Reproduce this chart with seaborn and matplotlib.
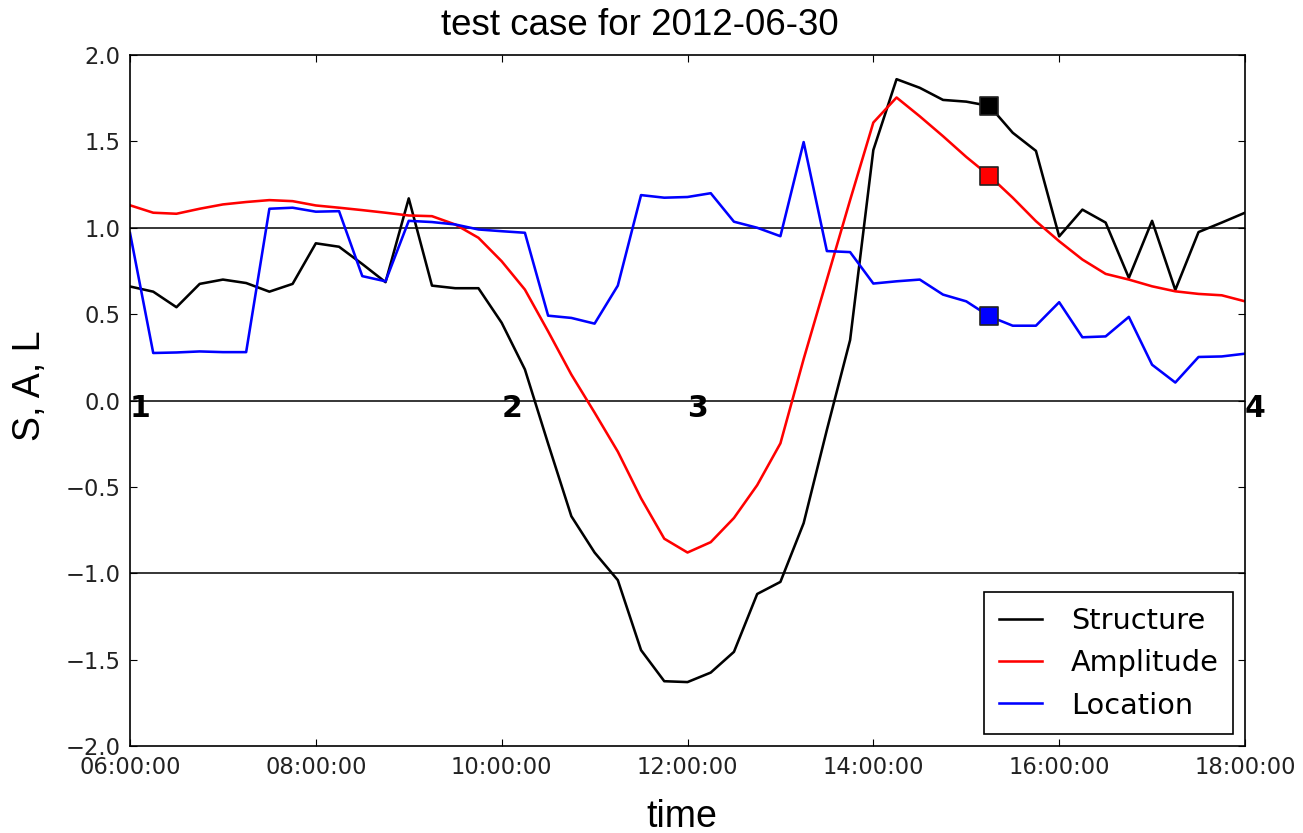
import numpy as np
import pandas as pd
import matplotlib
matplotlib.use("Agg")
import matplotlib.pyplot as plt
import matplotlib.dates as mdates
from matplotlib.lines import Line2D
from matplotlib.markers import MarkerStyle
import seaborn as sns

# ---------------- data ----------------
date = "2012-06-30"
times = pd.date_range(f"{date} 06:00", f"{date} 18:00", freq="15min")

structure = [0.66, 0.63, 0.54, 0.675, 0.70, 0.68, 0.63, 0.675, 0.91, 0.89,
             0.79, 0.685, 1.17, 0.665, 0.65, 0.65, 0.45, 0.18, -0.25, -0.67,
             -0.88, -1.04, -1.445, -1.625, -1.63, -1.575, -1.455, -1.12, -1.05, -0.71,
             -0.17, 0.35, 1.45, 1.86, 1.81, 1.74, 1.73, 1.705, 1.55, 1.445,
             0.95, 1.105, 1.03, 0.71, 1.04, 0.64, 0.975, 1.03, 1.087]

amplitude = [1.13, 1.087, 1.081, 1.11, 1.135, 1.149, 1.16, 1.154, 1.129, 1.116,
             1.102, 1.087, 1.071, 1.067, 1.019, 0.942, 0.806, 0.642, 0.40, 0.15,
             -0.07, -0.296, -0.566, -0.80, -0.88, -0.82, -0.68, -0.49, -0.248, 0.24,
             0.70, 1.16, 1.609, 1.754, 1.645, 1.53, 1.41, 1.30, 1.174, 1.038,
             0.922, 0.816, 0.733, 0.70, 0.661, 0.632, 0.617, 0.609, 0.574]

location = [0.97, 0.275, 0.278, 0.284, 0.28, 0.28, 1.11, 1.116, 1.093, 1.096,
            0.72, 0.69, 1.04, 1.033, 1.019, 0.99, 0.98, 0.971, 0.491, 0.478,
            0.445, 0.665, 1.189, 1.174, 1.178, 1.20, 1.035, 1.0, 0.951, 1.496,
            0.865, 0.859, 0.677, 0.69, 0.70, 0.613, 0.574, 0.487, 0.433, 0.433,
            0.569, 0.366, 0.371, 0.484, 0.207, 0.104, 0.252, 0.255, 0.271]

series_names = ["Structure", "Amplitude", "Location"]
series_colors = ["black", "red", "blue"]
marker_time = f"{date} 15:15"

ref_levels = [-1.0, 0.0, 1.0]
phase_labels = ["1", "2", "3", "4"]
phase_times = [f"{date} 06:00", f"{date} 10:00", f"{date} 12:00", f"{date} 18:00"]

df = pd.DataFrame({
    "time": np.tile(times, 3),
    "value": structure + amplitude + location,
    "series": np.repeat(series_names, len(times)),
})

# ---------------- figure ----------------
W, H, DPI = 1303, 833, 100
fig = plt.figure(figsize=(W / DPI, H / DPI), dpi=DPI)
ax = fig.add_axes([130 / W, 1 - 746 / H, (1245 - 130) / W, (746 - 55) / H])

for lv in ref_levels:
    ax.axhline(lv, color="black", lw=1.1, zorder=1)

sns.lineplot(data=df, x="time", y="value", hue="series", hue_order=series_names,
             palette=series_colors, lw=1.85, legend=False, ax=ax, zorder=2)

mt = pd.Timestamp(marker_time)
idx = list(times).index(mt)
msq = MarkerStyle("s", joinstyle="round")
for vals, c in zip([structure, amplitude, location], series_colors):
    ax.plot([mt], [vals[idx]], linestyle="none", marker=msq, ms=12.5,
            mfc=c, mec="#222222", mew=1.2, zorder=4)

for lab, t in zip(phase_labels, phase_times):
    ax.text(pd.Timestamp(t), -0.095, lab, fontsize=21.5, fontweight="bold",
            family="DejaVu Sans", ha="left", va="baseline", zorder=5)

ax.set_xlim(times[0], times[-1])
ax.set_ylim(-2.0, 2.0)
ax.set_yticks(np.arange(-2.0, 2.01, 0.5))
ax.xaxis.set_major_locator(mdates.HourLocator(byhour=range(6, 19, 2)))
ax.xaxis.set_major_formatter(mdates.DateFormatter("%H:%M:%S"))

ax.tick_params(axis="both", which="major", direction="in", length=5, width=0.8,
               top=True, right=True, labelsize=16.3, pad=7, labelcolor="#222222")
for sp in ax.spines.values():
    sp.set_linewidth(1.2)
    sp.set_color("black")

ax.set_xlabel("time", fontsize=27, family="Liberation Sans")
ax.xaxis.label.set_va("baseline")
ax.xaxis.set_label_coords(0.495, -0.117)
ax.set_ylabel("S, A, L", fontsize=27, family="Liberation Sans")
ax.yaxis.set_label_coords(-0.0735, 0.522)

fig.text(640 / W, 1 - 35 / H, f"test case for {date}", fontsize=26.5,
         family="Liberation Sans", ha="center", va="baseline")

handles = [Line2D([], [], color=c, lw=1.85) for c in series_colors]
leg = ax.legend(handles, series_names, loc="lower right", fontsize=20.7,
                frameon=True, fancybox=False, framealpha=1, edgecolor="black",
                borderaxespad=0.42, handlelength=1.5, handletextpad=1.0,
                labelspacing=0.5, borderpad=0.5)
leg.get_frame().set_linewidth(1.2)

fig.savefig("out.png", dpi=DPI)
